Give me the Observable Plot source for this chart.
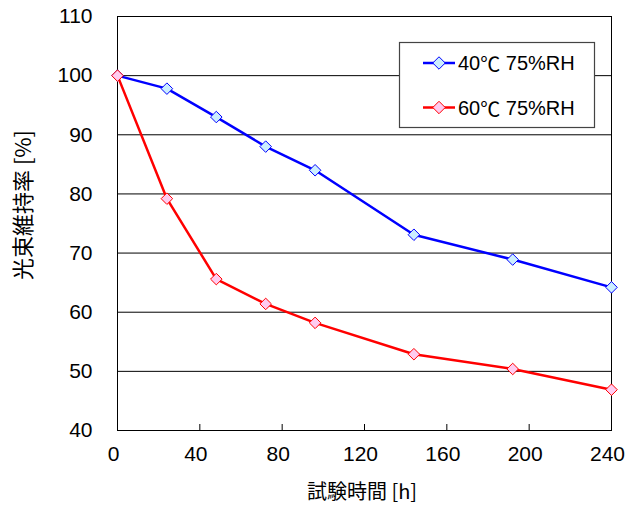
<!DOCTYPE html>
<html><head><meta charset="utf-8">
<script src="https://cdn.jsdelivr.net/npm/d3@7"></script>
<script src="https://cdn.jsdelivr.net/npm/@observablehq/plot@0.6"></script>
<style>body{margin:0;background:#fff}</style>
</head><body><div id="chart"></div>
<script>
const hours = [0, 24, 48, 72, 96, 144, 192, 240];
const s40 = [100, 97.8, 93, 88, 84, 73.1, 68.9, 64.2];
const s60 = [100, 79.2, 65.6, 61.4, 58.2, 52.9, 50.4, 46.9];
const seriesNames = ["40℃ 75%RH", "60℃ 75%RH"];
const xTicks = [0, 40, 80, 120, 160, 200, 240];
const yTicks = [40, 50, 60, 70, 80, 90, 100, 110];
const xLabel = "試験時間 [h]";
const yLabel = "光束維持率 [%]";

const lineColors = ["#0000ff", "#ff0000"];
const fillColors = ["#cceeff", "#ffccf0"];
const d40 = hours.map((h, i) => ({h, v: s40[i]}));
const d60 = hours.map((h, i) => ({h, v: s60[i]}));
const font = "'Liberation Sans', 'Noto Sans CJK JP', sans-serif";
const jfont = "'Noto Sans CJK JP', sans-serif";

const chart = Plot.plot({
  width: 625, height: 507,
  marginLeft: 117, marginRight: 14, marginTop: 16, marginBottom: 77,
  style: {fontFamily: font, fontSize: "21px", background: "#fff", color: "#000"},
  x: {domain: [0, 240]},
  y: {domain: [40, 110]},
  marks: [
    Plot.ruleY(yTicks.slice(1, -1), {stroke: "#000", strokeWidth: 1}),
    Plot.ruleX(xTicks.slice(1), {x: d => d, y1: 40, y2: 40, insetTop: -6, stroke: "#000"}),
    Plot.frame({stroke: "#000", strokeWidth: 1}),
    Plot.axisX({ticks: xTicks, tickSize: 0, tickPadding: 16, dx: -4, label: null, fontSize: 21}),
    Plot.axisY({ticks: yTicks, tickSize: 0, tickPadding: 25, label: null, fontSize: 21}),
    Plot.line(d40, {x: "h", y: "v", stroke: lineColors[0], strokeWidth: 2.5}),
    Plot.line(d60, {x: "h", y: "v", stroke: lineColors[1], strokeWidth: 2.5}),
    Plot.dot(d40, {x: "h", y: "v", symbol: "diamond2", r: 5.2, stroke: lineColors[0], fill: fillColors[0], strokeWidth: 1}),
    Plot.dot(d60, {x: "h", y: "v", symbol: "diamond2", r: 5.2, stroke: lineColors[1], fill: fillColors[1], strokeWidth: 1})
  ]
});
document.getElementById("chart").appendChild(chart);

const svg = d3.select(chart);
// axis titles
svg.append("text").attr("x", 362).attr("y", 490)
  .attr("text-anchor", "middle").attr("dominant-baseline", "central")
  .style("font-family", jfont).style("font-size", "20px").text(xLabel);
svg.append("text").attr("transform", "translate(21,205) rotate(-90)")
  .attr("text-anchor", "middle").attr("dominant-baseline", "central")
  .style("font-family", jfont).style("font-size", "22px").text(yLabel);

// legend
const lg = svg.append("g");
lg.append("rect").attr("x", 399.5).attr("y", 42.5).attr("width", 195).attr("height", 85)
  .attr("fill", "#fff").attr("stroke", "#444").attr("stroke-width", 1.2);
seriesNames.forEach((name, i) => {
  const y = 63 + i * 44.5;
  lg.append("line").attr("x1", 423).attr("x2", 455).attr("y1", y).attr("y2", y)
    .attr("stroke", lineColors[i]).attr("stroke-width", 2.5);
  lg.append("path").attr("d", d3.symbol(d3.symbolDiamond2, Math.PI * 5.6 * 5.6)())
    .attr("transform", `translate(439,${y})`)
    .attr("fill", fillColors[i]).attr("stroke", lineColors[i]).attr("stroke-width", 1);
  const t = lg.append("text").attr("x", 458).attr("y", y).attr("text-anchor", "start")
    .attr("dominant-baseline", "central")
    .style("font-family", font).style("font-size", "20px");
  const parts = name.split("℃");
  t.append("tspan").text(parts[0]);
  t.append("tspan").style("font-family", jfont).style("font-size", "20px").text("℃");
  t.append("tspan").text(parts[1]);
});
</script></body></html>
